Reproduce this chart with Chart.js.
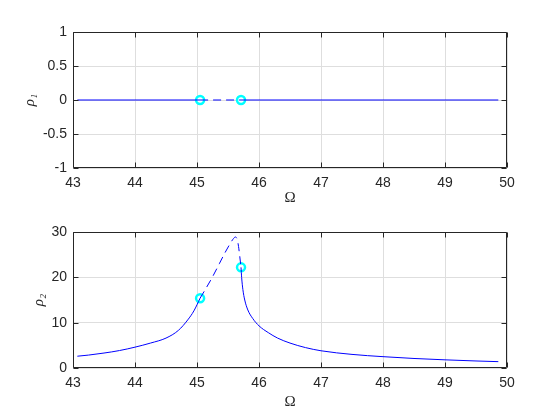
<!DOCTYPE html>
<html><head><meta charset="utf-8">
<script src="https://cdn.jsdelivr.net/npm/chart.js@4"></script>
<style>
html,body{margin:0;padding:0;background:#fff;}
#wrap{position:relative;width:560px;height:420px;background:#fff;}
canvas{position:absolute;left:0;}
</style></head><body>
<div id="wrap">
<canvas id="c1" width="560" height="207" style="top:0;width:560px;height:207px"></canvas>
<canvas id="c2" width="560" height="201" style="top:210px;width:560px;height:201px"></canvas>
</div>
<script>
// ---- data ----
const xTicks = [43, 44, 45, 46, 47, 48, 49, 50];
const y1Ticks = [-1, -0.5, 0, 0.5, 1];
const y2Ticks = [0, 10, 20, 30];

// top panel: rho1
const omega1SolidL = [43.07, 45.05];
const rho1SolidL   = [0, 0];
const omega1Dash   = [45.05, 45.71];
const rho1Dash     = [0, 0];
const omega1SolidR = [45.71, 49.86];
const rho1SolidR   = [0, 0];

// bottom panel: rho2
const omega2SolidL = [43.07, 43.25, 43.5, 43.75, 44.0, 44.25, 44.5, 44.7, 44.85, 44.95, 45.05];
const rho2SolidL   = [2.6, 2.85, 3.3, 3.85, 4.6, 5.5, 6.6, 8.3, 10.6, 12.6, 15.4];
const omega2Dash   = [45.05, 45.15, 45.25, 45.36, 45.45, 45.52, 45.58, 45.62, 45.65, 45.67, 45.69, 45.71];
const rho2Dash     = [15.4, 17.7, 20.1, 23.0, 25.4, 27.1, 28.4, 28.9, 28.3, 26.8, 24.6, 22.2];
const omega2SolidR = [45.71, 45.72, 45.74, 45.77, 45.82, 45.9, 46.0, 46.15, 46.3, 46.5, 46.75, 47.0, 47.5, 48.0, 48.5, 49.0, 49.5, 49.86];
const rho2SolidR   = [22.2, 20.0, 17.3, 15.0, 12.8, 10.9, 9.3, 7.8, 6.6, 5.5, 4.5, 3.8, 3.0, 2.5, 2.1, 1.8, 1.55, 1.4];

// bifurcation points
const omegaBif = [45.05, 45.71];
const rho1Bif  = [0, 0];
const rho2Bif  = [15.4, 22.2];

// ---- helpers ----
const pts = (xs, ys) => xs.map((x, i) => ({x: x, y: ys[i]}));
const AX = '#262626';
const GRID = '#dedede';
const TICKFONT = {family: '"Liberation Sans", Arial, sans-serif', size: 14};
const fmt = v => String(Math.round(v * 100) / 100);

const boxPlugin = {
  id: 'boxTicks',
  afterDraw(chart, args, opts) {
    const ctx = chart.ctx, a = chart.chartArea;
    const xs = chart.scales.x, ys = chart.scales.y;
    const L = Math.round(a.left) + 0.5, R = Math.round(a.right) - 0.5;
    const T = Math.round(a.top) + 0.5, B = Math.round(a.bottom) - 0.5;
    ctx.save();
    ctx.strokeStyle = AX;
    ctx.lineWidth = 1;
    ctx.beginPath();
    ctx.rect(L, T, R - L, B - T);
    const tl = 5;
    opts.xt.forEach(v => {
      const px = Math.round(xs.getPixelForValue(v)) + 0.5;
      ctx.moveTo(px, B); ctx.lineTo(px, B - tl);
      ctx.moveTo(px, T); ctx.lineTo(px, T + tl);
    });
    opts.yt.forEach(v => {
      const py = Math.round(ys.getPixelForValue(v)) + 0.5;
      ctx.moveTo(L, py); ctx.lineTo(L + tl, py);
      ctx.moveTo(R, py); ctx.lineTo(R - tl, py);
    });
    ctx.stroke();
    ctx.restore();
  }
};

function lineDs(data, dashed) {
  return {data: data, showLine: true, borderColor: '#0000ff', borderWidth: 1,
          pointRadius: 0, borderDash: dashed ? [8, 5] : [], fill: false,
          cubicInterpolationMode: 'monotone'};
}
function markerDs(data) {
  return {data: data, showLine: false, pointRadius: 4, pointBorderWidth: 2.5,
          pointBorderColor: '#00ffff', pointBackgroundColor: '#ffffff', clip: false};
}

function makeChart(id, datasets, yMin, yMax, yStep, yTicksArr, yLabel, padTop, xAxisH, yTitlePad) {
  return new Chart(document.getElementById(id), {
    type: 'scatter',
    data: {datasets: datasets},
    options: {
      responsive: false, animation: false, devicePixelRatio: 1,
      layout: {padding: {top: padTop, right: 53, left: 0, bottom: 0}},
      plugins: {legend: {display: false}, tooltip: {enabled: false},
                boxTicks: {xt: xTicks, yt: yTicksArr}},
      scales: {
        x: {type: 'linear', min: 43, max: 50,
            afterFit: s => { s.height = xAxisH; },
            ticks: {stepSize: 1, color: AX, font: TICKFONT, padding: 7, maxRotation: 0, callback: fmt},
            grid: {color: GRID, drawTicks: false}, border: {display: false},
            title: {display: true, text: 'Ω', color: AX,
                    font: {family: '"Liberation Serif", "DejaVu Serif", serif', size: 15},
                    padding: {top: 0, bottom: 0}}},
        y: {type: 'linear', min: yMin, max: yMax,
            afterFit: s => { s.width = 73; },
            ticks: {stepSize: yStep, color: AX, font: TICKFONT, padding: 6, callback: fmt},
            grid: {color: GRID, drawTicks: false}, border: {display: false},
            title: {display: true, text: yLabel, color: AX,
                    font: {family: '"Liberation Serif", "DejaVu Serif", serif', size: 15, style: 'italic'},
                    padding: {top: yTitlePad, bottom: 0}}}
      }
    },
    plugins: [boxPlugin]
  });
}

makeChart('c1', [
  lineDs(pts(omega1SolidL, rho1SolidL), false),
  lineDs(pts(omega1Dash, rho1Dash), true),
  lineDs(pts(omega1SolidR, rho1SolidR), false),
  markerDs(pts(omegaBif, rho1Bif))
], -1, 1, 0.5, y1Ticks, 'ρ₁', 32, 39, 21);

makeChart('c2', [
  lineDs(pts(omega2SolidL, rho2SolidL), false),
  lineDs(pts(omega2Dash, rho2Dash), true),
  lineDs(pts(omega2SolidR, rho2SolidR), false),
  markerDs(pts(omegaBif, rho2Bif))
], 0, 30, 10, y2Ticks, 'ρ₂', 22, 43, 30);
</script>
</body></html>
